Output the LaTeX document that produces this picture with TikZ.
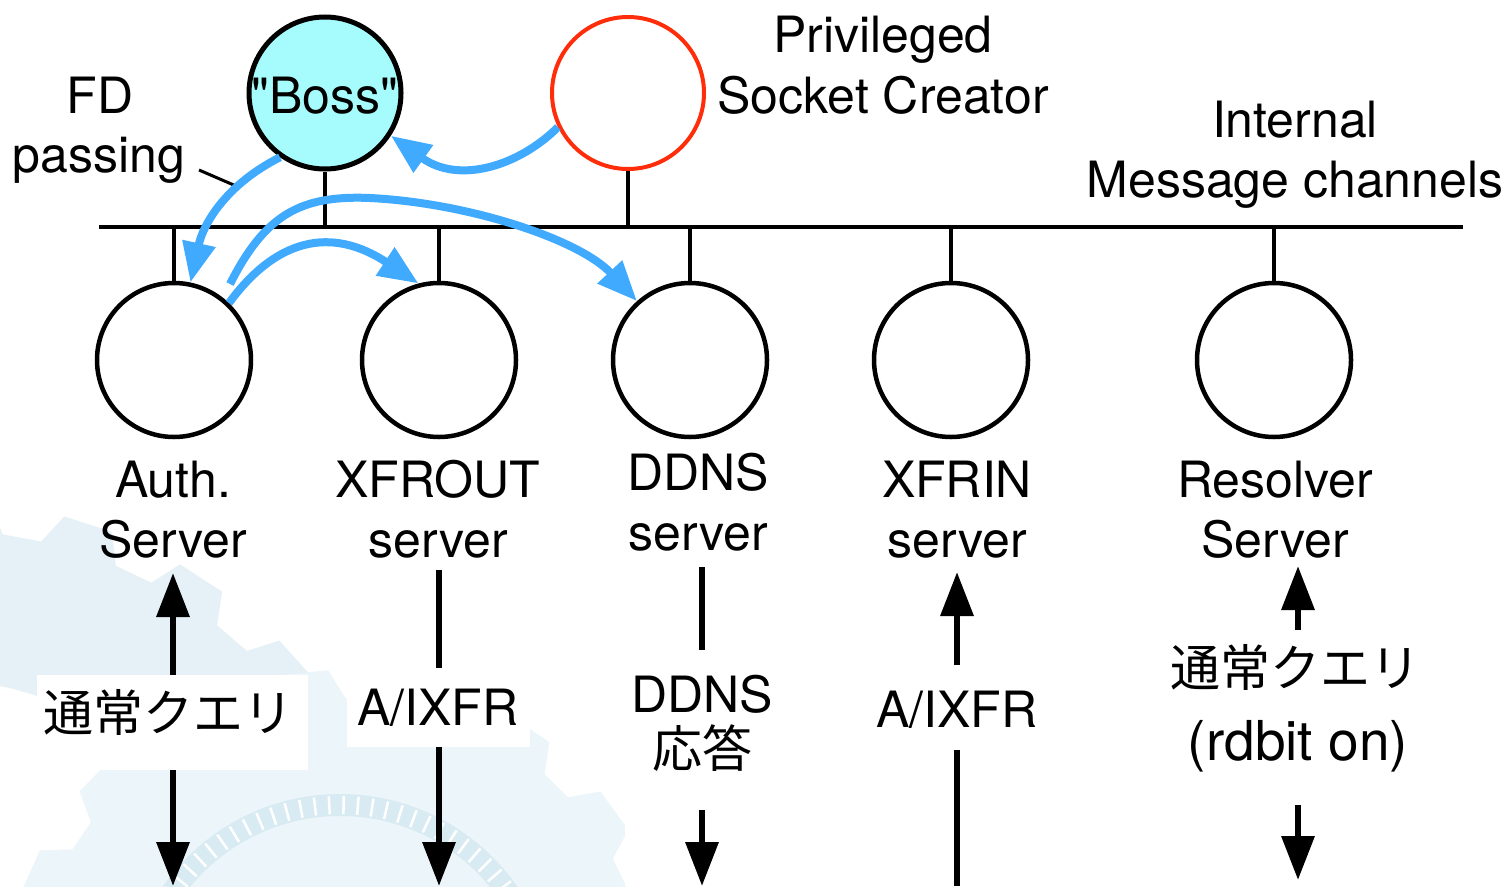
\documentclass[tikz,border=0pt]{standalone}
\usepackage{fontspec}
\setmainfont{TeX Gyre Heros}
\newfontfamily\qfont{TeX Gyre Heros}[Ligatures=TeXOff]
\newfontfamily\jp{Noto Sans CJK JP}
\usetikzlibrary{arrows.meta,calc}
\definecolor{bossfill}{RGB}{166,252,253}
\definecolor{sockred}{RGB}{255,45,10}
\definecolor{fdblue}{RGB}{64,170,255}
\definecolor{wmblue}{RGB}{229,241,246}
\definecolor{wmblue2}{RGB}{236,245,249}
\definecolor{wmblue3}{RGB}{217,235,242}
\begin{document}
\begin{tikzpicture}[x=1pt,y=-1pt,
  txt/.style={font=\fontsize{50}{60}\selectfont, inner sep=0pt, anchor=base},
  jtxt/.style={font=\jp\fontsize{50}{60}\selectfont, inner sep=0pt, anchor=base},
  proc/.style={circle, draw=black, line width=4.5pt, minimum size=154pt, inner sep=0pt, fill=white},
  bus/.style={line width=4pt, black},
  stem/.style={line width=4pt, black},
  flow/.style={line width=6.5pt, black},
  tip/.style={-{Triangle[length=44pt,width=32pt]}},
  dtip/.style={{Triangle[length=44pt,width=32pt]}-{Triangle[length=44pt,width=32pt]}},
  fd/.style={fdblue, line width=8pt, -{Triangle[length=40pt,width=32pt]}},
  wbox/.style={fill=white}
]
\useasboundingbox (0,0) rectangle (1511,886);

% faint gear watermark
\begin{scope}
\clip (0,0) rectangle (1511,886);
\coordinate (gc) at (-60,980);
\fill[wmblue, even odd rule] ($(gc)+(0:480)$) \foreach \i in {0,...,23}{ -- ($(gc)+({\i*15}:480)$) -- ($(gc)+({\i*15+6}:480)$) -- ($(gc)+({\i*15+8}:450)$) -- ($(gc)+({\i*15+13}:450)$)} -- cycle (gc) circle[radius=300];
\coordinate (dc) at (340,1010);
\fill[wmblue2] ($(dc)+(0:340)$) \foreach \i in {0,...,17}{ -- ($(dc)+({\i*20}:340)$) -- ($(dc)+({\i*20+8}:340)$) -- ($(dc)+({\i*20+11}:312)$) -- ($(dc)+({\i*20+17}:312)$)} -- cycle;
\draw[wmblue3, line width=22pt] (dc) circle[radius=205];
\foreach \a in {215,219,...,327} \draw[white, line width=2.5pt] ($(dc)+(\a:196)$) -- ($(dc)+(\a:214)$);
\end{scope}

% white label backgrounds
\fill[wbox] (625,650) rectangle (790,886);

% bus
\coordinate (busL) at (99,227);
\coordinate (busR) at (1463,227);
\draw[bus] (busL) -- (busR);

% top processes
\node[proc, fill=bossfill, line width=5pt, minimum size=152pt] (boss) at (325,93) {};
\node[txt, font=\qfont\fontsize{50}{60}\selectfont] (bosst) at (325,113) {"Boss"};
\node[proc, draw=sockred, line width=4pt, minimum size=152pt] (sock) at (628,93) {};
\draw[stem] (boss.south) -- (boss.south |- busL);
\draw[stem] (sock.south) -- (sock.south |- busL);

% lower processes
\node[proc] (auth) at (174,360) {};
\node[proc] (xfrout) at (439,360) {};
\node[proc] (ddns) at (690,360) {};
\node[proc] (xfrin) at (951,360) {};
\node[proc] (resolver) at (1274,360) {};
\foreach \n in {auth,xfrout,ddns,xfrin,resolver} \draw[stem] (\n.north) -- (\n.north |- busL);

% top labels
\node[txt] (fd1) at (100,113) {FD};
\node[txt] (fd2) at (99,172) {passing};
\coordinate (ptrA) at (199,170);
\coordinate (ptrB) at (236,186);
\draw[line width=3pt] (ptrA) -- (ptrB);
\node[txt] (psc1) at (883,52) {Privileged};
\node[txt] (psc2) at (883,113) {Socket Creator};
\node[txt] (imc1) at (1295,137) {Internal};
\node[txt] (imc2) at (1295,197) {Message channels};

% blue FD arrows
\draw[fd] (sock.206) .. controls (520,165) and (460,185) .. (boss.327);
\draw[fd] (boss.235) .. controls (225,185) and (203,225) .. (auth.78);
\draw[fd] (auth.46) .. controls (275,240) and (330,225) .. (xfrout.105);
\coordinate (fdstart) at (230,284);
\coordinate (fdmid) at (370,198);
\draw[fd] (fdstart) .. controls (265,215) and (300,195) .. (fdmid) .. controls (470,203) and (580,240) .. (ddns.132);

% server labels
\node[txt] (l1a) at (173,497) {Auth.};
\node[txt] (l1b) at (173,557) {Server};
\node[txt] (l2a) at (438,497) {XFROUT};
\node[txt] (l2b) at (438,557) {server};
\node[txt] (l3a) at (698,490) {DDNS};
\node[txt] (l3b) at (698,550) {server};
\node[txt] (l4a) at (957,497) {XFRIN};
\node[txt] (l4b) at (957,557) {server};
\node[txt] (l5a) at (1275,497) {Resolver};
\node[txt] (l5b) at (1275,557) {Server};

% external traffic arrows
\coordinate (a1t) at (173,573); \coordinate (a1b) at (173,886);
\draw[flow, dtip] (a1b) -- (a1t);
\fill[wbox] (37,675) rectangle (308,770);
\node[jtxt] (q1) at (168,731) {通常クエリ};

\coordinate (a2t) at (439,570); \coordinate (a2b) at (439,886);
\draw[flow, tip] (a2t) -- (a2b);
\fill[wbox] (347,668) rectangle (530,747);
\node[txt] (q2) at (438,725) {A/IXFR};

\coordinate (a3t) at (702,567); \coordinate (a3m) at (702,650);
\coordinate (a3s) at (702,810); \coordinate (a3b) at (702,886);
\draw[flow] (a3t) -- (a3m);
\draw[flow, tip] (a3s) -- (a3b);
\node[txt] (q3a) at (702,712) {DDNS};
\node[jtxt] (q3b) at (702,767) {応答};

\coordinate (a4t) at (957,572); \coordinate (a4m) at (957,665);
\coordinate (a4s) at (957,750); \coordinate (a4b) at (957,886);
\draw[flow, tip] (a4m) -- (a4t);
\draw[flow] (a4s) -- (a4b);
\node[txt] (q4) at (957,727) {A/IXFR};

\coordinate (a5t) at (1298,566); \coordinate (a5m) at (1298,630);
\coordinate (a5s) at (1298,805); \coordinate (a5b) at (1298,880);
\draw[flow, tip] (a5m) -- (a5t);
\draw[flow, tip] (a5s) -- (a5b);
\node[jtxt] (q5a) at (1295,686) {通常クエリ};
\node[txt, font=\fontsize{55}{60}\selectfont] (q5b) at (1298,760) {(rdbit on)};
\end{tikzpicture}
\end{document}
